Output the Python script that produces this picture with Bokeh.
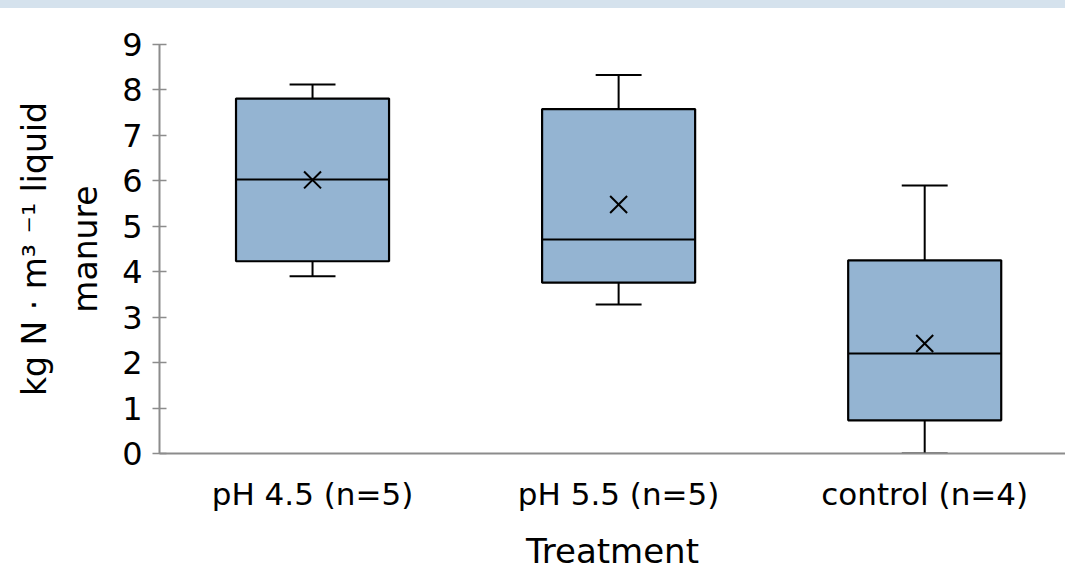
from bokeh.plotting import figure
from bokeh.layouts import column
from bokeh.models import FixedTicker, Range1d, ColumnDataSource, Spacer
from bokeh.embed import file_html
from bokeh.resources import INLINE

# ---- data ----
categories = ["pH 4.5 (n=5)", "pH 5.5 (n=5)", "control (n=4)"]
whisker_low = [3.90, 3.28, 0.00]
q1 = [4.23, 3.76, 0.73]
median = [6.03, 4.71, 2.20]
q3 = [7.81, 7.58, 4.25]
whisker_high = [8.12, 8.33, 5.90]
mean = [6.02, 5.48, 2.42]
y_ticks = [0, 1, 2, 3, 4, 5, 6, 7, 8, 9]
y_label = "kg N · m³ ⁻¹ liquid\nmanure"
x_label = "Treatment"

FONT = "DejaVu Sans"
BOX_W = 0.5
CAP_W = 0.15

pos = [i + 0.5 for i in range(len(categories))]
src = ColumnDataSource(dict(
    x=pos, lo=whisker_low, q1=q1, med=median, q3=q3, hi=whisker_high, mean=mean,
    bl=[v - BOX_W / 2 for v in pos], br=[v + BOX_W / 2 for v in pos],
    cl=[v - CAP_W / 2 for v in pos], cr=[v + CAP_W / 2 for v in pos],
))

fig = figure(width=1065, height=565,
             x_range=Range1d(0, 2.96), y_range=Range1d(0, 9),
             output_backend="svg", toolbar_location=None,
             min_border_left=159, min_border_right=0,
             min_border_top=36, min_border_bottom=120)

fig.background_fill_color = "white"
fig.border_fill_color = "white"
fig.outline_line_color = None
fig.xgrid.visible = False
fig.ygrid.visible = False

# whiskers
fig.segment("x", "q3", "x", "hi", source=src, line_color="black", line_width=2)
fig.segment("x", "lo", "x", "q1", source=src, line_color="black", line_width=2)
fig.segment("cl", "hi", "cr", "hi", source=src, line_color="black", line_width=2)
fig.segment("cl", "lo", "cr", "lo", source=src, line_color="black", line_width=2)
# boxes
fig.vbar(x="x", width=BOX_W, bottom="q1", top="q3", source=src,
         fill_color="#94b4d2", line_color="black", line_width=2.2)
# median
fig.segment("bl", "med", "br", "med", source=src, line_color="black", line_width=2)
# mean
fig.scatter("x", "mean", source=src, marker="x", size=24,
            line_color="black", line_width=2)

AX = "#8c8c8c"
# y axis
ya = fig.yaxis[0]
ya.ticker = FixedTicker(ticks=y_ticks)
ya.axis_line_color = AX
ya.axis_line_width = 2
ya.major_tick_line_color = AX
ya.major_tick_line_width = 1.5
ya.major_tick_in = 7
ya.major_tick_out = 7
ya.minor_tick_line_color = None
ya.major_label_text_font = FONT
ya.major_label_text_font_size = "32px"
ya.major_label_text_color = "black"
ya.major_label_standoff = 10
ya.axis_label = y_label
ya.axis_label_text_font = FONT
ya.axis_label_text_font_size = "33px"
ya.axis_label_text_font_style = "normal"
ya.axis_label_text_color = "black"
ya.axis_label_text_line_height = 1.3
ya.axis_label_standoff = 14

# x axis
xa = fig.xaxis[0]
xa.ticker = FixedTicker(ticks=pos)
xa.major_label_overrides = {v: c for v, c in zip(pos, categories)}
xa.axis_line_color = AX
xa.axis_line_width = 2
xa.major_tick_line_color = None
xa.major_tick_in = 0
xa.major_tick_out = 0
xa.minor_tick_line_color = None
xa.major_label_text_font = FONT
xa.major_label_text_font_size = "31px"
xa.major_label_text_color = "black"
xa.major_label_standoff = 22
xa.axis_label = x_label
xa.axis_label_text_font = FONT
xa.axis_label_text_font_size = "34px"
xa.axis_label_text_font_style = "normal"
xa.axis_label_text_color = "black"
xa.axis_label_text_line_height = 1.0
xa.axis_label_standoff = 16

strip = Spacer(width=1065, height=8, styles={"background-color": "#d5e2ed"})
p = column(strip, fig, spacing=0)

open("out.html", "w").write(file_html(p, INLINE))
